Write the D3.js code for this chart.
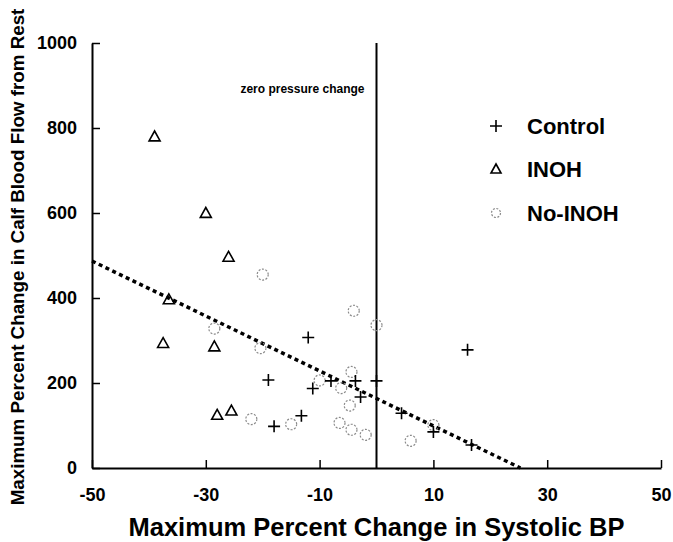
<!DOCTYPE html>
<html>
	<head>
		<meta charset="utf-8">
		<style>
			body { margin: 0; background: #fff; }
			text { font-family: "Liberation Sans", Arial, sans-serif; font-weight: bold; }
		</style>
	</head>
	<body>
		<script src="https://cdn.jsdelivr.net/npm/d3@7/dist/d3.min.js"></script>
		<script>
			// data
			var controlX = [-19, -18, -13.2, -12, -11.2, -8, -3.7, -2.8, 0, 4.4, 10, 16, 16.7];
			var controlY = [207, 98, 123, 307, 187, 205, 205, 167, 205, 129, 85, 278, 54];
			var inohX = [-39, -30, -26, -36.5, -37.5, -28.5, -28, -25.5];
			var inohY = [780, 600, 497, 397, 294, 286, 125, 135];
			var noInohX = [-28.5, -20, -20.4, -22, -15, -10, -6.2, -6.5, -4.7, -4.4, -4.4, -4, -1.9, 0, 6, 10];
			var noInohY = [328, 455, 282, 115, 103, 206, 188, 106, 147, 226, 90, 370, 78, 336, 64, 101];
			var fitX = [-50, 25.3];
			var fitY = [487, 0];
			var xTicks = [-50, -30, -10, 10, 30, 50];
			var yTicks = [0, 200, 400, 600, 800, 1000];
			var legendNames = ["Control", "INOH", "No-INOH"];

			var width = 673;
			var height = 542;
			var svg = d3.select("body")
						.append("svg")
						.attr("width", width)
						.attr("height", height);

			var x = d3.scaleLinear().domain([-50, 50]).range([92, 661]);
			var y = d3.scaleLinear().domain([0, 1000]).range([468, 43]);

			// axes
			var fmt = function(d) { return String(d); };
			var xAxis = d3.axisBottom(x).tickValues(xTicks).tickFormat(fmt).tickSizeInner(-8).tickSizeOuter(0).tickPadding(20);
			var gx = svg.append("g")
						.attr("transform", "translate(0," + y(0) + ")")
						.call(xAxis);
			var yAxis = d3.axisLeft(y).tickValues(yTicks).tickFormat(fmt).tickSizeInner(-8).tickSizeOuter(0).tickPadding(15);
			var gy = svg.append("g")
						.attr("transform", "translate(" + x(-50) + ",0)")
						.call(yAxis);
			[gx, gy].forEach(function(g) {
				g.select(".domain").attr("stroke", "#000").attr("stroke-width", 2);
				g.selectAll(".tick line").attr("stroke", "#000").attr("stroke-width", 1.5);
				g.selectAll(".tick text")
					.attr("fill", "#000")
					.style("font-family", "'Liberation Sans', Arial, sans-serif")
					.style("font-weight", "bold")
					.style("font-size", "18px");
			});

			// zero pressure change line
			svg.append("line")
				.attr("x1", x(0)).attr("x2", x(0))
				.attr("y1", y(0)).attr("y2", y(1000))
				.attr("stroke", "#000")
				.attr("stroke-width", 2);
			svg.append("text")
				.attr("x", x(0) - 12)
				.attr("y", 93)
				.attr("text-anchor", "end")
				.attr("font-size", "12px")
				.text("zero pressure change");

			// regression line
			svg.append("line")
				.attr("x1", x(fitX[0])).attr("y1", y(fitY[0]))
				.attr("x2", x(fitX[1])).attr("y2", y(fitY[1]))
				.attr("stroke", "#000")
				.attr("stroke-width", 3.5)
				.attr("stroke-dasharray", "4,3.5");

			function plus(g, cx, cy, s) {
				g.append("path")
					.attr("d", "M" + (cx - s) + "," + cy + "H" + (cx + s) + "M" + cx + "," + (cy - s) + "V" + (cy + s))
					.attr("stroke", "#000")
					.attr("stroke-width", 1.6)
					.attr("fill", "none");
			}
			function tri(g, cx, cy, s) {
				g.append("path")
					.attr("d", "M" + cx + "," + (cy - s) + "L" + (cx + s) + "," + (cy + s * 0.8) + "L" + (cx - s) + "," + (cy + s * 0.8) + "Z")
					.attr("stroke", "#000")
					.attr("stroke-width", 1.6)
					.attr("fill", "none");
			}
			function circ(g, cx, cy, r) {
				g.append("circle")
					.attr("cx", cx).attr("cy", cy).attr("r", r)
					.attr("stroke", "#8a8a8a")
					.attr("stroke-width", 1.2)
					.attr("stroke-dasharray", "2,1.5")
					.attr("fill", "none");
			}

			var pts = svg.append("g");
			noInohX.forEach(function(d, i) { circ(pts, x(d), y(noInohY[i]), 5.5); });
			inohX.forEach(function(d, i) { tri(pts, x(d), y(inohY[i]), 5.5); });
			controlX.forEach(function(d, i) { plus(pts, x(d), y(controlY[i]), 6); });

			// legend
			var legY = [126, 169, 213];
			var leg = svg.append("g");
			plus(leg, 496, legY[0], 6);
			tri(leg, 496, legY[1], 5);
			circ(leg, 496, legY[2], 4.5);
			leg.selectAll("text")
				.data(legendNames)
				.enter()
				.append("text")
				.attr("x", 527)
				.attr("y", function(d, i) { return legY[i]; })
				.attr("dy", "0.36em")
				.attr("font-size", "22px")
				.text(function(d) { return d; });

			// axis titles
			svg.append("text")
				.attr("x", x(0))
				.attr("y", 536)
				.attr("text-anchor", "middle")
				.attr("font-size", "25.5px")
				.text("Maximum Percent Change in Systolic BP");
			svg.append("text")
				.attr("transform", "translate(24,257) rotate(-90)")
				.attr("text-anchor", "middle")
				.attr("font-size", "18.8px")
				.text("Maximum Percent Change in Calf Blood Flow from Rest");
		</script>
	</body>
</html>
